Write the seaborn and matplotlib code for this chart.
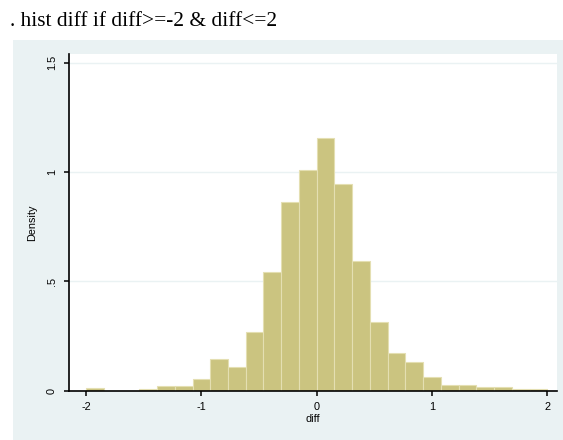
import numpy as np
import pandas as pd
import matplotlib
matplotlib.use("Agg")
import matplotlib.pyplot as plt
import seaborn as sns

# Data (26 bins from -2 to 2)
bin_edges = np.linspace(-2, 2, 27)
density = [0.011, 0.0, 0.0, 0.009, 0.02, 0.02, 0.055, 0.145, 0.11, 0.267,
           0.541, 0.861, 1.008, 1.154, 0.944, 0.594, 0.313, 0.174, 0.13, 0.064,
           0.027, 0.027, 0.018, 0.018, 0.009, 0.009]
x_ticks = [-2, -1, 0, 1, 2]
x_ticklabels = ["-2", "-1", "0", "1", "2"]
y_ticks = [0, 0.5, 1, 1.5]
y_ticklabels = ["0", ".5", "1", "1.5"]
title_text = ". hist diff if diff>=-2 & diff<=2"
x_label = "diff"
y_label = "Density"

centers = (bin_edges[:-1] + bin_edges[1:]) / 2
df = pd.DataFrame({"diff": centers, "w": density})

sns.set_theme(style="white")
plt.rcParams["font.family"] = ["Liberation Sans", "DejaVu Sans"]

W, H = 563, 440
fig = plt.figure(figsize=(W / 100, H / 100), dpi=100)
fig.patch.set_facecolor("white")

# Graph region background (separate axes underneath)
bg_ax = fig.add_axes([13 / W, 0, (W - 13) / W, (H - 40) / H], zorder=0)
bg_ax.set_facecolor("#EAF2F3")
bg_ax.set_xticks([])
bg_ax.set_yticks([])
for s in bg_ax.spines.values():
    s.set_visible(False)

left, right, top, bottom = 69, 557, 54, 390.7
ax = fig.add_axes([left / W, (H - bottom) / H, (right - left) / W, (bottom - top) / H], zorder=2)
ax.set_facecolor("white")

sns.histplot(data=df, x="diff", weights="w", bins=list(bin_edges), stat="count",
             color="#CBC480", edgecolor="#E4DFB2", linewidth=0.8, alpha=1.0, ax=ax)

ax.set_xlim(-2.148, 2.084)
ax.set_ylim(0, 1.54)

for yv in [0.5, 1.0, 1.5]:
    ax.axhline(yv, color="#EAF2F3", linewidth=1.0, zorder=0)

ax.set_xticks(x_ticks)
ax.set_xticklabels(x_ticklabels, fontsize=7.8)
ax.set_yticks(y_ticks)
ax.set_yticklabels(y_ticklabels, fontsize=7.8, rotation=90, va="center")

ax.tick_params(axis="both", direction="out", length=3.8, width=1.1, color="black",
               labelcolor="black", left=True, bottom=True)
ax.tick_params(axis="y", pad=5)
ax.tick_params(axis="x", pad=4)

for s in ["top", "right"]:
    ax.spines[s].set_visible(False)
for s in ["left", "bottom"]:
    ax.spines[s].set_visible(True)
    ax.spines[s].set_color("black")
    ax.spines[s].set_linewidth(1.2)

ax.set_xlabel(x_label, fontsize=7.8, labelpad=2, color="black")
ax.set_ylabel(y_label, fontsize=7.8, labelpad=7, color="black")
ax.grid(False)

fig.text(10 / W, 1 - 26 / H, title_text, fontsize=15.4, family=["Liberation Serif"],
         ha="left", va="baseline", color="black")

fig.savefig("out.png", dpi=100)
